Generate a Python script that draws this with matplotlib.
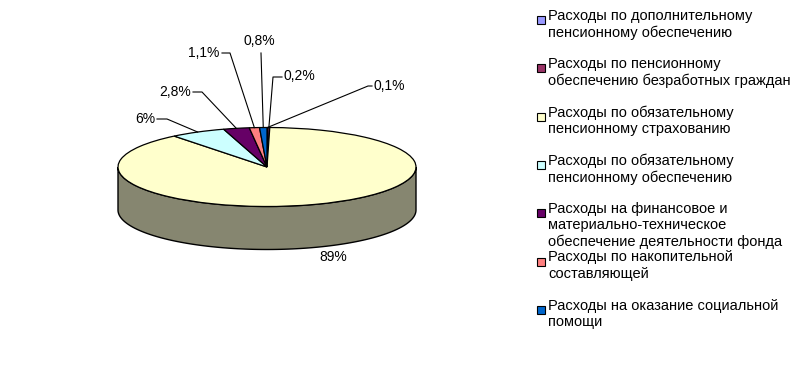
import numpy as np
import matplotlib
matplotlib.use("Agg")
import matplotlib.pyplot as plt
from matplotlib.patches import Wedge, Polygon, Rectangle
from matplotlib.transforms import Affine2D

# data (order as in the legend, drawn clockwise from 12 o'clock)
labels = [
    "Расходы по дополнительному\nпенсионному обеспечению",
    "Расходы по пенсионному\nобеспечению безработных граждан",
    "Расходы по обязательному\nпенсионному страхованию",
    "Расходы по обязательному\nпенсионному обеспечению",
    "Расходы на финансовое и\nматериально-техническое\nобеспечение деятельности фонда",
    "Расходы по накопительной\nсоставляющей",
    "Расходы на оказание социальной\nпомощи",
]
values = [0.1, 0.2, 89.0, 6.0, 2.8, 1.1, 0.8]
value_text = ["0,1%", "0,2%", "89%", "6%", "2,8%", "1,1%", "0,8%"]
colors = ["#9999FF", "#993366", "#FFFFCC", "#CCFFFF", "#660066", "#FF8080", "#0066CC"]
side_colors = ["#4C4C80", "#4C1A33", "#868670", "#668080", "#330033", "#804040", "#003366"]

# layout (pixels)
cx, cy, rx, ry, depth = 267, 167, 149, 39.5, 43
# label anchor, elbow point and end of leader (None = no leader)
label_pos = [(374, 86), (284, 76), (333, 257), (155, 119), (191, 92), (219, 53), (259, 41)]
elbows = [(368, 86), (273, 77), None, (167, 119), (202, 92), (230, 53), (261, 53)]
ends = [(372, 86), (282, 77), None, (157, 119), (193, 92), (222, 53), None]
aligns = ["left", "left", "center", "right", "right", "right", "center"]

plt.rcParams['font.family'] = ['Liberation Sans', 'DejaVu Sans']

W, H = 809, 377
fig = plt.figure(figsize=(W / 100, H / 100), dpi=100)
ax = fig.add_axes([0, 0, 1, 1])
ax.set_xlim(0, W)
ax.set_ylim(H, 0)
ax.axis("off")

# unit circle -> flattened ellipse in pixel space
unit = Affine2D().scale(rx, -ry).translate(cx, cy) + ax.transData

# slice angles
fr = np.array(values) / sum(values) * 360
t_start = 90 - np.concatenate([[0], np.cumsum(fr)[:-1]])
t_end = t_start - fr

# side walls, only the front half (180..360 deg) is visible
for i in range(len(values)):
    a = t_end[i] % 360
    b = a + fr[i]
    for lo_lim, hi_lim in [(180, 360), (540, 720)]:
        lo, hi = max(a, lo_lim), min(b, hi_lim)
        if hi > lo:
            t = np.radians(np.linspace(lo, hi, 120))
            top = np.column_stack([np.cos(t), np.sin(t)])
            bot = np.column_stack([np.cos(t[::-1]), np.sin(t[::-1]) - depth / ry])
            ax.add_patch(Polygon(np.vstack([top, bot]), closed=True, transform=unit,
                                 facecolor=side_colors[i], edgecolor="black", lw=1.0))

# top face
for i in range(len(values)):
    ax.add_patch(Wedge((0, 0), 1, t_end[i], t_start[i], transform=unit,
                       facecolor=colors[i], edgecolor="black", lw=0.9))

# value labels with leader lines
for i in range(len(values)):
    mid = np.radians((t_start[i] + t_end[i]) / 2)
    px, py = cx + rx * np.cos(mid), cy - ry * np.sin(mid)
    if elbows[i] is not None:
        xs = [px, elbows[i][0]]
        ys = [py, elbows[i][1]]
        if ends[i] is not None:
            xs.append(ends[i][0])
            ys.append(ends[i][1])
        ax.plot(xs, ys, color="black", lw=0.8)
    ax.text(label_pos[i][0], label_pos[i][1], value_text[i], ha=aligns[i], va="center",
            fontsize=10)

# legend
for i, lab in enumerate(labels):
    y = 20 + i * 48.3
    ax.add_patch(Rectangle((537, y - 4), 8, 8, facecolor=colors[i], edgecolor="black", lw=0.8))
    ax.text(548, y - 11, lab, ha="left", va="top", fontsize=10.5, linespacing=1.2)

fig.savefig("out.png", dpi=100)
